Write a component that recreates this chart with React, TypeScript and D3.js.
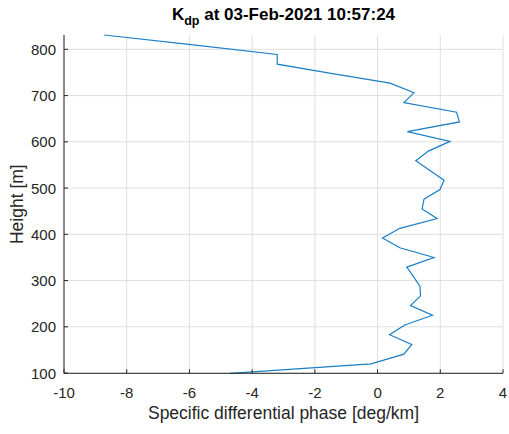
import React from "react";
import * as d3 from "d3";

const heights = [831, 810, 789, 768, 747, 727, 706, 685, 664, 643, 622, 601, 580, 559, 538, 517, 497, 476, 455, 434, 413, 392, 371, 350, 329, 308, 288, 267, 246, 225, 204, 183, 162, 141, 120, 99.5];
const kdp = [-8.72, -5.95, -3.2, -3.2, -1.39, 0.4, 1.16, 0.84, 2.52, 2.61, 0.95, 2.31, 1.62, 1.22, 1.67, 2.12, 1.99, 1.48, 1.42, 1.9, 0.71, 0.16, 0.71, 1.8, 0.93, 1.15, 1.35, 1.37, 1.05, 1.75, 0.87, 0.38, 1.09, 0.84, -0.21, -4.71];
const xTicks = [-10, -8, -6, -4, -2, 0, 2, 4];
const yTicks = [100, 200, 300, 400, 500, 600, 700, 800];

const W = 509, H = 434;
const left = 64, right = 503, top = 35, bottom = 373.3;

export default function App() {
  const x = d3.scaleLinear().domain([-10, 4]).range([left, right]);
  const y = d3.scaleLinear().domain([99.5, 831]).range([bottom, top]);
  const pts: [number, number][] = heights.map((h, i) => [kdp[i], h]);
  const line = d3.line<[number, number]>().x(d => x(d[0])).y(d => y(d[1]));
  const font = "'Liberation Sans', Arial, Helvetica, sans-serif";
  const axisColor = "#262626";
  return (
    <svg width={W} height={H} style={{ position: "absolute", left: 0, top: 0, background: "#fff" }} fontFamily={font}>
      {xTicks.map(t => (
        <line key={"gx" + t} x1={x(t)} x2={x(t)} y1={top} y2={bottom} stroke="#dfdfdf" strokeWidth={1} />
      ))}
      {yTicks.map(t => (
        <line key={"gy" + t} x1={left} x2={right} y1={y(t)} y2={y(t)} stroke="#dfdfdf" strokeWidth={1} />
      ))}
      <path d={line(pts) || ""} fill="none" stroke="#1a7fc6" strokeWidth={1.2} />
      <line x1={left} x2={left} y1={top} y2={bottom} stroke={axisColor} strokeWidth={1} />
      <line x1={left} x2={right} y1={bottom} y2={bottom} stroke={axisColor} strokeWidth={1} />
      {xTicks.map(t => (
        <g key={"xt" + t}>
          <line x1={x(t)} x2={x(t)} y1={bottom} y2={bottom - 4} stroke={axisColor} />
          <text x={x(t)} y={bottom + 25} textAnchor="middle" fontSize={15} fill={axisColor}>{t}</text>
        </g>
      ))}
      {yTicks.map(t => (
        <g key={"yt" + t}>
          <line x1={left} x2={left + 4} y1={y(t)} y2={y(t)} stroke={axisColor} />
          <text x={left - 8} y={y(t) + 5.5} textAnchor="end" fontSize={15} fill={axisColor}>{t}</text>
        </g>
      ))}
      <text x={(left + right) / 2} y={419} textAnchor="middle" fontSize={17.5} fill={axisColor}>Specific differential phase [deg/km]</text>
      <text transform={`translate(23,${(top + bottom) / 2}) rotate(-90)`} textAnchor="middle" fontSize={17.5} fill={axisColor}>Height [m]</text>
      <text x={(left + right) / 2} y={20} textAnchor="middle" fontSize={17} fontWeight="bold" fill="#000">
        K<tspan fontSize={12.5} dy={5}>dp</tspan><tspan dy={-5}> at 03-Feb-2021 10:57:24</tspan>
      </text>
    </svg>
  );
}
